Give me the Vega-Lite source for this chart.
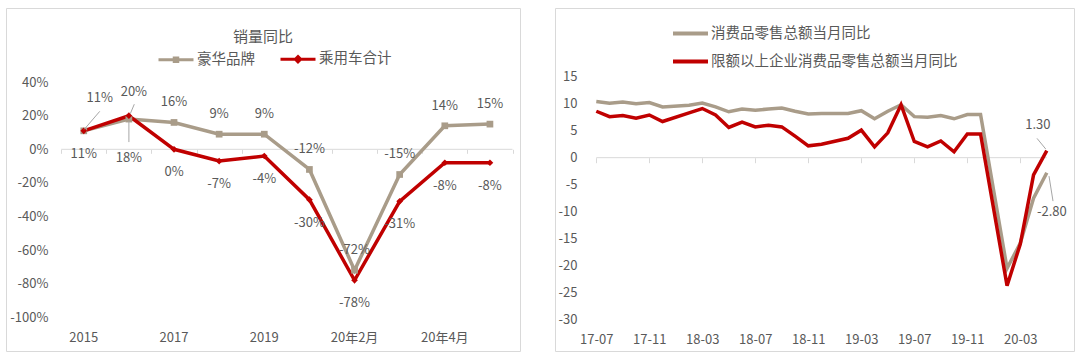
{
  "$schema": "https://vega.github.io/schema/vega-lite/v6.json",
  "background": "white",
  "padding": {"left": 5, "top": 7, "right": 9, "bottom": 7},
  "spacing": 33,
  "resolve": {"scale": {"color": "independent"}, "legend": {"color": "independent"}},
  "config": {
    "locale": {"number": {"decimal": ".", "thousands": ",", "grouping": [3], "currency": ["$", ""], "minus": "-"}},
    "view": {"stroke": "#D9D9D9", "strokeWidth": 1},
    "font": "Noto Sans CJK SC",
    "axis": {"grid": false, "labelColor": "#595959", "labelFont": "Noto Sans CJK SC", "labelFontSize": 13, "domainColor": "#D9D9D9", "tickColor": "#D9D9D9", "labelOverlap": false},
    "legend": {"labelFont": "Noto Sans CJK SC", "labelFontSize": 14.5, "labelColor": "#595959", "labelLimit": 400},
    "text": {"font": "Noto Sans CJK SC", "fontSize": 13, "fill": "#595959"}
  },
  "datasets": {
    "sales": [
      {"cat": "2015", "series": "豪华品牌", "value": 0.11},
      {"cat": "2016", "series": "豪华品牌", "value": 0.18},
      {"cat": "2017", "series": "豪华品牌", "value": 0.16},
      {"cat": "2018", "series": "豪华品牌", "value": 0.09},
      {"cat": "2019", "series": "豪华品牌", "value": 0.09},
      {"cat": "20年1月", "series": "豪华品牌", "value": -0.12},
      {"cat": "20年2月", "series": "豪华品牌", "value": -0.72},
      {"cat": "20年3月", "series": "豪华品牌", "value": -0.15},
      {"cat": "20年4月", "series": "豪华品牌", "value": 0.14},
      {"cat": "20年5月", "series": "豪华品牌", "value": 0.15},
      {"cat": "2015", "series": "乘用车合计", "value": 0.11},
      {"cat": "2016", "series": "乘用车合计", "value": 0.20},
      {"cat": "2017", "series": "乘用车合计", "value": 0.0},
      {"cat": "2018", "series": "乘用车合计", "value": -0.07},
      {"cat": "2019", "series": "乘用车合计", "value": -0.04},
      {"cat": "20年1月", "series": "乘用车合计", "value": -0.30},
      {"cat": "20年2月", "series": "乘用车合计", "value": -0.78},
      {"cat": "20年3月", "series": "乘用车合计", "value": -0.31},
      {"cat": "20年4月", "series": "乘用车合计", "value": -0.08},
      {"cat": "20年5月", "series": "乘用车合计", "value": -0.08}
    ],
    "retail": [
      {"month": "17-07", "series": "消费品零售总额当月同比", "value": 10.4},
      {"month": "17-08", "series": "消费品零售总额当月同比", "value": 10.1},
      {"month": "17-09", "series": "消费品零售总额当月同比", "value": 10.3},
      {"month": "17-10", "series": "消费品零售总额当月同比", "value": 10.0},
      {"month": "17-11", "series": "消费品零售总额当月同比", "value": 10.2},
      {"month": "17-12", "series": "消费品零售总额当月同比", "value": 9.4},
      {"month": "18-02", "series": "消费品零售总额当月同比", "value": 9.7},
      {"month": "18-03", "series": "消费品零售总额当月同比", "value": 10.1},
      {"month": "18-04", "series": "消费品零售总额当月同比", "value": 9.4},
      {"month": "18-05", "series": "消费品零售总额当月同比", "value": 8.5},
      {"month": "18-06", "series": "消费品零售总额当月同比", "value": 9.0},
      {"month": "18-07", "series": "消费品零售总额当月同比", "value": 8.8},
      {"month": "18-08", "series": "消费品零售总额当月同比", "value": 9.0},
      {"month": "18-09", "series": "消费品零售总额当月同比", "value": 9.2},
      {"month": "18-10", "series": "消费品零售总额当月同比", "value": 8.6},
      {"month": "18-11", "series": "消费品零售总额当月同比", "value": 8.1},
      {"month": "18-12", "series": "消费品零售总额当月同比", "value": 8.2},
      {"month": "19-02", "series": "消费品零售总额当月同比", "value": 8.2},
      {"month": "19-03", "series": "消费品零售总额当月同比", "value": 8.7},
      {"month": "19-04", "series": "消费品零售总额当月同比", "value": 7.2},
      {"month": "19-05", "series": "消费品零售总额当月同比", "value": 8.6},
      {"month": "19-06", "series": "消费品零售总额当月同比", "value": 9.8},
      {"month": "19-07", "series": "消费品零售总额当月同比", "value": 7.6},
      {"month": "19-08", "series": "消费品零售总额当月同比", "value": 7.5},
      {"month": "19-09", "series": "消费品零售总额当月同比", "value": 7.8},
      {"month": "19-10", "series": "消费品零售总额当月同比", "value": 7.2},
      {"month": "19-11", "series": "消费品零售总额当月同比", "value": 8.0},
      {"month": "19-12", "series": "消费品零售总额当月同比", "value": 8.0},
      {"month": "20-02", "series": "消费品零售总额当月同比", "value": -20.5},
      {"month": "20-03", "series": "消费品零售总额当月同比", "value": -15.8},
      {"month": "20-04", "series": "消费品零售总额当月同比", "value": -7.5},
      {"month": "20-05", "series": "消费品零售总额当月同比", "value": -2.8},
      {"month": "17-07", "series": "限额以上企业消费品零售总额当月同比", "value": 8.6},
      {"month": "17-08", "series": "限额以上企业消费品零售总额当月同比", "value": 7.6},
      {"month": "17-09", "series": "限额以上企业消费品零售总额当月同比", "value": 7.8},
      {"month": "17-10", "series": "限额以上企业消费品零售总额当月同比", "value": 7.3},
      {"month": "17-11", "series": "限额以上企业消费品零售总额当月同比", "value": 7.9},
      {"month": "17-12", "series": "限额以上企业消费品零售总额当月同比", "value": 6.7},
      {"month": "18-02", "series": "限额以上企业消费品零售总额当月同比", "value": 8.3},
      {"month": "18-03", "series": "限额以上企业消费品零售总额当月同比", "value": 9.1},
      {"month": "18-04", "series": "限额以上企业消费品零售总额当月同比", "value": 7.9},
      {"month": "18-05", "series": "限额以上企业消费品零售总额当月同比", "value": 5.6},
      {"month": "18-06", "series": "限额以上企业消费品零售总额当月同比", "value": 6.6},
      {"month": "18-07", "series": "限额以上企业消费品零售总额当月同比", "value": 5.7},
      {"month": "18-08", "series": "限额以上企业消费品零售总额当月同比", "value": 6.0},
      {"month": "18-09", "series": "限额以上企业消费品零售总额当月同比", "value": 5.7},
      {"month": "18-10", "series": "限额以上企业消费品零售总额当月同比", "value": 4.0},
      {"month": "18-11", "series": "限额以上企业消费品零售总额当月同比", "value": 2.2},
      {"month": "18-12", "series": "限额以上企业消费品零售总额当月同比", "value": 2.5},
      {"month": "19-02", "series": "限额以上企业消费品零售总额当月同比", "value": 3.6},
      {"month": "19-03", "series": "限额以上企业消费品零售总额当月同比", "value": 5.1},
      {"month": "19-04", "series": "限额以上企业消费品零售总额当月同比", "value": 2.0},
      {"month": "19-05", "series": "限额以上企业消费品零售总额当月同比", "value": 4.6},
      {"month": "19-06", "series": "限额以上企业消费品零售总额当月同比", "value": 9.8},
      {"month": "19-07", "series": "限额以上企业消费品零售总额当月同比", "value": 3.0},
      {"month": "19-08", "series": "限额以上企业消费品零售总额当月同比", "value": 2.0},
      {"month": "19-09", "series": "限额以上企业消费品零售总额当月同比", "value": 3.1},
      {"month": "19-10", "series": "限额以上企业消费品零售总额当月同比", "value": 1.1},
      {"month": "19-11", "series": "限额以上企业消费品零售总额当月同比", "value": 4.4},
      {"month": "19-12", "series": "限额以上企业消费品零售总额当月同比", "value": 4.4},
      {"month": "20-02", "series": "限额以上企业消费品零售总额当月同比", "value": -23.7},
      {"month": "20-03", "series": "限额以上企业消费品零售总额当月同比", "value": -16.0},
      {"month": "20-04", "series": "限额以上企业消费品零售总额当月同比", "value": -3.2},
      {"month": "20-05", "series": "限额以上企业消费品零售总额当月同比", "value": 1.3}
    ]
  },
  "hconcat": [
    {
      "width": 514,
      "height": 343,
      "title": {"text": "销量同比", "fontSize": 15, "fontWeight": "normal", "color": "#595959", "anchor": "middle", "offset": -44, "baseline": "middle", "font": "Noto Sans CJK SC"},
      "data": {"name": "sales"},
      "layer": [
        {
          "data": {"values": [{}]},
          "mark": {"type": "rule", "color": "#D9D9D9", "strokeWidth": 1, "xOffset": -22.565, "x2Offset": 22.565},
          "encoding": {
            "x": {"datum": "2015", "type": "nominal", "axis": {"orient": "bottom", "offset": -201.7, "labels": false, "domain": false, "ticks": true, "tickSize": 4, "tickBand": "extent", "title": null}},
            "x2": {"datum": "20年5月"},
            "y": {"datum": 0, "type": "quantitative"}
          }
        },
        {
          "mark": {"type": "line", "strokeWidth": 3.5},
          "encoding": {
            "x": {"field": "cat", "type": "nominal", "sort": null,
              "scale": {"type": "band", "domain": ["2015", "2016", "2017", "2018", "2019", "20年1月", "20年2月", "20年3月", "20年4月", "20年5月"], "paddingInner": 0, "paddingOuter": 0.6946, "align": 0.8804},
              "axis": {"orient": "top", "offset": -329, "values": ["2015", "2017", "2019", "20年2月", "20年4月"], "labelBaseline": "middle", "labelPadding": 0, "ticks": false, "tickSize": 0, "domain": false, "labelAngle": 0, "title": null}},
            "y": {"field": "value", "type": "quantitative",
              "scale": {"domain": [-1.2013, 0.8416], "nice": false, "zero": false},
              "axis": {"orient": "left", "offset": -44, "labelPadding": 2, "ticks": false, "tickSize": 0, "domain": false, "format": ".0%", "values": [-1, -0.8, -0.6, -0.4, -0.2, 0, 0.2, 0.4], "tickCount": 30, "labelBaseline": "middle", "labelOverlap": false, "title": null}},
            "color": {"field": "series", "type": "nominal",
              "scale": {"domain": ["豪华品牌", "乘用车合计"], "range": ["#A99C89", "#C00000"]},
              "legend": {"title": null, "orient": "none", "legendX": 151, "legendY": 32, "direction": "horizontal", "columnPadding": 19, "labelOffset": 2, "symbolSize": 1225, "symbolStrokeWidth": 3,
                "encode": {"symbols": {"update": {
                  "shape": {"signal": "datum.value === '豪华品牌' ? 'M-1,0H1M-0.1,-0.1H0.1V0.1H-0.1Z' : 'M-1,0H1M0,-0.15L0.15,0L0,0.15L-0.15,0Z'"},
                  "fill": {"signal": "datum.value === '豪华品牌' ? '#A99C89' : '#C00000'"},
                  "stroke": {"signal": "datum.value === '豪华品牌' ? '#A99C89' : '#C00000'"},
                  "strokeWidth": {"value": 3}
                }}}}}
          }
        },
        {
          "transform": [{"filter": "datum.series === '豪华品牌'"}],
          "mark": {"type": "point", "filled": true, "size": 45, "opacity": 1, "shape": "square"},
          "encoding": {
            "x": {"field": "cat", "type": "nominal", "axis": null},
            "y": {"field": "value", "type": "quantitative"},
            "color": {"field": "series", "type": "nominal", "legend": null}
          }
        },
        {
          "transform": [{"filter": "datum.series === '乘用车合计'"}],
          "mark": {"type": "point", "filled": true, "size": 45, "opacity": 1, "shape": "diamond"},
          "encoding": {
            "x": {"field": "cat", "type": "nominal", "axis": null},
            "y": {"field": "value", "type": "quantitative"},
            "color": {"field": "series", "type": "nominal", "legend": null}
          }
        },
        {
          "transform": [{"filter": "datum.series === '豪华品牌' && datum.cat !== '2015' && datum.cat !== '2016'"}],
          "mark": {"type": "text", "dy": -20},
          "encoding": {
            "x": {"field": "cat", "type": "nominal", "axis": null},
            "y": {"field": "value", "type": "quantitative"},
            "text": {"field": "value", "type": "quantitative", "format": ".0%"}
          }
        },
        {
          "transform": [{"filter": "datum.series === '豪华品牌' && datum.cat === '2015'"}],
          "mark": {"type": "text", "dx": 16, "dy": -33},
          "encoding": {
            "x": {"field": "cat", "type": "nominal", "axis": null},
            "y": {"field": "value", "type": "quantitative"},
            "text": {"field": "value", "type": "quantitative", "format": ".0%"}
          }
        },
        {
          "transform": [{"filter": "datum.series === '豪华品牌' && datum.cat === '2016'"}],
          "mark": {"type": "text", "dy": 39},
          "encoding": {
            "x": {"field": "cat", "type": "nominal", "axis": null},
            "y": {"field": "value", "type": "quantitative"},
            "text": {"field": "value", "type": "quantitative", "format": ".0%"}
          }
        },
        {
          "transform": [{"filter": "datum.series === '乘用车合计' && datum.cat !== '2016'"}],
          "mark": {"type": "text", "dy": 23},
          "encoding": {
            "x": {"field": "cat", "type": "nominal", "axis": null},
            "y": {"field": "value", "type": "quantitative"},
            "text": {"field": "value", "type": "quantitative", "format": ".0%"}
          }
        },
        {
          "transform": [{"filter": "datum.series === '乘用车合计' && datum.cat === '2016'"}],
          "mark": {"type": "text", "dx": 5, "dy": -24},
          "encoding": {
            "x": {"field": "cat", "type": "nominal", "axis": null},
            "y": {"field": "value", "type": "quantitative"},
            "text": {"field": "value", "type": "quantitative", "format": ".0%"}
          }
        },
        {
          "data": {"values": [{}]},
          "mark": {"type": "rule", "color": "#A6A6A6", "strokeWidth": 1, "xOffset": 0.5, "x2Offset": 16, "yOffset": -1.5, "y2Offset": -19.5},
          "encoding": {
            "x": {"datum": "2015", "type": "nominal", "axis": null},
            "x2": {"datum": "2015"},
            "y": {"datum": 0.11, "type": "quantitative"},
            "y2": {"datum": 0.11}
          }
        },
        {
          "data": {"values": [{}]},
          "mark": {"type": "rule", "color": "#A6A6A6", "strokeWidth": 1, "xOffset": 0, "x2Offset": 0, "yOffset": 2, "y2Offset": 23},
          "encoding": {
            "x": {"datum": "2016", "type": "nominal", "axis": null},
            "x2": {"datum": "2016"},
            "y": {"datum": 0.18, "type": "quantitative"},
            "y2": {"datum": 0.18}
          }
        },
        {
          "data": {"values": [{}]},
          "mark": {"type": "rule", "color": "#A6A6A6", "strokeWidth": 1, "xOffset": 1.4, "x2Offset": 5.4, "yOffset": -2, "y2Offset": -11.5},
          "encoding": {
            "x": {"datum": "2016", "type": "nominal", "axis": null},
            "x2": {"datum": "2016"},
            "y": {"datum": 0.2, "type": "quantitative"},
            "y2": {"datum": 0.2}
          }
        }
      ],
      "resolve": {"axis": {"x": "independent"}}
    },
    {
      "width": 519,
      "height": 343,
      "data": {"name": "retail"},
      "layer": [
        {
          "data": {"values": [{}]},
          "mark": {"type": "rule", "color": "#D9D9D9", "strokeWidth": 1},
          "encoding": {
            "x": {"datum": "17-07", "type": "ordinal", "axis": {"orient": "bottom", "offset": -193.3, "values": ["17-07", "17-11", "18-03", "18-07", "18-11", "19-03", "19-07", "19-11", "20-03"], "labels": false, "domain": false, "ticks": true, "tickSize": 5, "title": null}},
            "x2": {"datum": "20-05"},
            "y": {"datum": 0, "type": "quantitative"}
          }
        },
        {
          "mark": {"type": "line", "strokeWidth": 3.5},
          "encoding": {
            "x": {"field": "month", "type": "ordinal",
              "scale": {"type": "point", "domain": ["17-04", "17-05", "17-06", "17-07", "17-08", "17-09", "17-10", "17-11", "17-12", "18-01", "18-02", "18-03", "18-04", "18-05", "18-06", "18-07", "18-08", "18-09", "18-10", "18-11", "18-12", "19-01", "19-02", "19-03", "19-04", "19-05", "19-06", "19-07", "19-08", "19-09", "19-10", "19-11", "19-12", "20-01", "20-02", "20-03", "20-04", "20-05", "20-06", "20-07"], "padding": 0.085, "align": 0.69},
              "axis": {"orient": "top", "offset": -331.3, "values": ["17-07", "17-11", "18-03", "18-07", "18-11", "19-03", "19-07", "19-11", "20-03"], "labelBaseline": "middle", "labelPadding": 0, "ticks": false, "tickSize": 0, "domain": false, "labelAngle": 0, "title": null}},
            "y": {"field": "value", "type": "quantitative",
              "scale": {"domain": [-35.8, 27.72], "nice": false, "zero": false},
              "axis": {"orient": "left", "offset": -24, "labelPadding": 2, "ticks": false, "tickSize": 0, "domain": false, "values": [-30, -25, -20, -15, -10, -5, 0, 5, 10, 15], "tickCount": 30, "labelBaseline": "middle", "labelOverlap": false, "title": null}},
            "color": {"field": "series", "type": "nominal",
              "scale": {"domain": ["消费品零售总额当月同比", "限额以上企业消费品零售总额当月同比"], "range": ["#A99C89", "#C00000"]},
              "legend": {"title": null, "orient": "none", "legendX": 116, "legendY": 6, "direction": "vertical", "symbolType": "stroke", "symbolSize": 1225, "symbolStrokeWidth": 4, "rowPadding": -10, "labelOffset": 1}}
          }
        },
        {
          "transform": [{"filter": "datum.month === '20-05' && datum.series === '限额以上企业消费品零售总额当月同比'"}],
          "mark": {"type": "text", "dx": -9, "dy": -26},
          "encoding": {
            "x": {"field": "month", "type": "ordinal", "axis": null},
            "y": {"field": "value", "type": "quantitative"},
            "text": {"field": "value", "type": "quantitative", "format": ".2f"}
          }
        },
        {
          "transform": [{"filter": "datum.month === '20-05' && datum.series === '消费品零售总额当月同比'"}],
          "mark": {"type": "text", "dx": 5, "dy": 39},
          "encoding": {
            "x": {"field": "month", "type": "ordinal", "axis": null},
            "y": {"field": "value", "type": "quantitative"},
            "text": {"field": "value", "type": "quantitative", "format": ".2f"}
          }
        },
        {
          "data": {"values": [{}]},
          "mark": {"type": "rule", "color": "#A6A6A6", "strokeWidth": 1, "xOffset": -9.8, "x2Offset": -1.1, "yOffset": -12.3, "y2Offset": -1.7},
          "encoding": {
            "x": {"datum": "20-05", "type": "ordinal", "axis": null},
            "x2": {"datum": "20-05"},
            "y": {"datum": 1.3, "type": "quantitative"},
            "y2": {"datum": 1.3}
          }
        },
        {
          "data": {"values": [{}]},
          "mark": {"type": "rule", "color": "#A6A6A6", "strokeWidth": 1, "xOffset": 2.2, "x2Offset": 6.2, "yOffset": 3.3, "y2Offset": 28.3},
          "encoding": {
            "x": {"datum": "20-05", "type": "ordinal", "axis": null},
            "x2": {"datum": "20-05"},
            "y": {"datum": -2.8, "type": "quantitative"},
            "y2": {"datum": -2.8}
          }
        }
      ],
      "resolve": {"axis": {"x": "independent"}}
    }
  ]
}
